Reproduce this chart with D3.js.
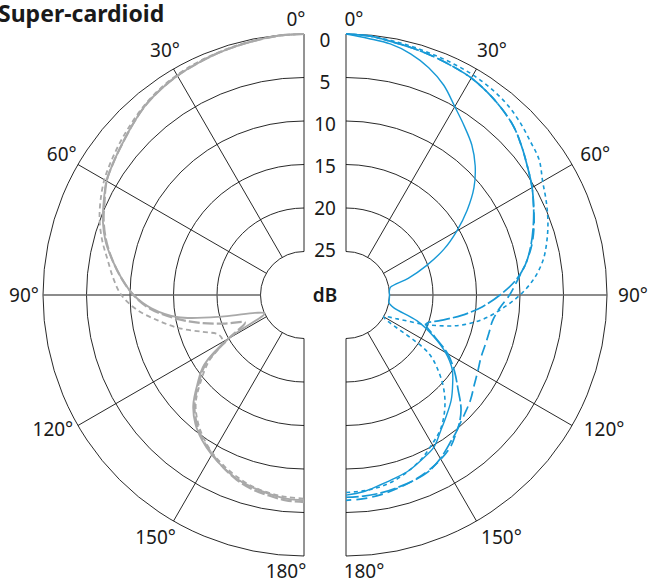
<!DOCTYPE html>
<html>
<head>
<meta charset="utf-8">
<script src="https://cdn.jsdelivr.net/npm/d3@7"></script>
<style>
  body { margin: 0; background: #fff; }
  svg { display: block; }
  text { font-family: "Noto Sans", sans-serif; fill: #1a1a1a; }
</style>
</head>
<body>
<div id="chart"></div>
<script>
// measurement angles (deg) shared by all curves
const angles = [0, 5, 10, 15, 20, 25, 30, 35, 40, 45, 50, 55, 60, 65, 70, 75, 80, 85, 90,
  95, 100, 105, 110, 115, 120, 125, 130, 135, 140, 145, 150, 155, 160, 165, 170, 175, 180];

// left half (gray), attenuation in dB
const graySolid = [0, 0.05, 0.2, 0.35, 0.5, 0.7, 0.9, 1.2, 1.6, 2.2, 2.8, 3.3, 3.8, 4.6, 5.4, 6.4, 7.7, 9.0, 10.4,
  12.4, 15.3, 20.5, 24.0, 25, 20.0, 16.0, 14.0, 12.0, 10.6, 9.6, 8.8, 8.1, 7.5, 7.1, 6.8, 6.5, 6.4];
const grayLong = [0, 0.05, 0.2, 0.35, 0.5, 0.7, 0.9, 1.2, 1.6, 2.2, 2.8, 3.3, 3.8, 4.7, 5.5, 6.5, 7.7, 9.0, 10.4,
  12.2, 14.8, 17.6, 20.4, 22.5, 20.0, 16.2, 14.2, 12.2, 10.8, 9.7, 8.9, 8.1, 7.4, 6.9, 6.6, 6.3, 6.2];
const grayShort = [0, 0.05, 0.15, 0.3, 0.45, 0.6, 0.8, 1.1, 1.5, 2.0, 2.5, 3.0, 3.5, 4.2, 5.0, 6.0, 7.1, 8.0, 9.0,
  10.7, 13.0, 15.2, 17.6, 19.2, 19.2, 16.6, 14.5, 12.4, 11.0, 9.9, 9.0, 8.3, 7.7, 7.2, 6.9, 6.7, 6.6];

// right half (blue)
const blueSolid = [0, 0.4, 0.7, 1.3, 2.2, 3.4, 5.0, 6.3, 7.5, 9.0, 10.8, 13.0, 15.3, 17.6, 20.2, 22.6, 24.8, 25, 25,
  25, 25, 24.3, 21.3, 19.0, 16.8, 15.1, 14.0, 12.9, 12.0, 11.0, 9.8, 9.2, 8.6, 8.2, 7.8, 7.3, 7.0];
const blueLongA = [0, 0.1, 0.4, 0.6, 0.8, 1.0, 1.2, 1.6, 2.1, 2.7, 3.6, 4.5, 5.3, 6.2, 7.1, 8.0, 9.0, 10.4, 12.3,
  14.3, 16.5, 18.7, 20.2, 18.8, 16.5, 14.8, 13.2, 11.3, 10.0, 9.2, 8.3, 7.6, 7.3, 7.1, 6.9, 6.8, 6.75];
const blueLongB = [0, 0.1, 0.4, 0.6, 0.8, 1.0, 1.2, 1.6, 2.1, 2.7, 3.6, 4.5, 5.3, 6.2, 7.0, 7.9, 9.0, 10.2, 11.2,
  12.3, 12.9, 13.0, 13.0, 12.9, 12.5, 12.0, 11.3, 10.7, 10.0, 8.9, 8.2, 7.7, 7.3, 7.0, 6.7, 6.5, 6.4];
const blueShort = [0, 0.1, 0.3, 0.45, 0.6, 0.7, 0.8, 1.0, 1.3, 1.8, 2.4, 2.9, 3.9, 4.6, 5.3, 6.1, 7.0, 8.3, 10.0,
  12.0, 14.0, 16.5, 20.0, 23.5, 25, 18.5, 16.0, 14.0, 12.4, 11.1, 10.2, 9.3, 8.6, 8.0, 7.6, 7.4, 7.3];

const dbTicks = [0, 5, 10, 15, 20, 25];
const angleTicks = [0, 30, 60, 90, 120, 150, 180];

const width = 654, height = 584;
const R = 261, rHole = 43.5, cy = 295;

const r = d3.scaleLinear().domain([0, 25]).range([R, rHole]).clamp(true);
const rad = a => a * Math.PI / 180;

const svg = d3.select("#chart").append("svg")
  .attr("width", width)
  .attr("height", height);

const gray = "#a9a9a9", blue = "#1799d6";

const halves = [
  { cx: 304, side: -1, series: [
    { values: grayShort, color: gray, dash: "5,3.5", w: 1.8 },
    { values: grayLong, color: gray, dash: "11,3", w: 2.2 },
    { values: graySolid, color: gray, dash: null, w: 1.9 }
  ]},
  { cx: 346, side: 1, series: [
    { values: blueShort, color: blue, dash: "4,3.5", w: 1.6 },
    { values: blueLongB, color: blue, dash: "11,5", w: 1.7 },
    { values: blueLongA, color: blue, dash: "16,3", w: 1.7 },
    { values: blueSolid, color: blue, dash: null, w: 1.4 }
  ]}
];

// label placement around the outer ring
function labelPos(d, h) {
  if (d === 0 || d === 180) {
    const shift = d === 0 ? 8 : 18;
    return [h.cx + h.side * shift, cy - 276 * Math.cos(rad(d))];
  }
  const rr = d > 90 ? 288 : 282;
  const a = d > 90 ? d - 1.5 : d;
  const nudge = h.side === 1 ? 5 : 2;
  return [h.cx + h.side * rr * Math.sin(rad(a)) + nudge, cy - rr * Math.cos(rad(a)) - (d > 90 ? 3 : 0)];
}

halves.forEach(h => {
  const g = svg.append("g")
    .attr("transform", `translate(${h.cx},${cy}) scale(${h.side},1)`);

  // rings (half circles)
  g.selectAll(".ring")
    .data(dbTicks)
    .enter()
    .append("path")
    .attr("d", d => {
      const p = d3.path();
      p.arc(0, 0, r(d), -Math.PI / 2, Math.PI / 2);
      return p.toString();
    })
    .attr("fill", "none")
    .attr("stroke", "#111")
    .attr("stroke-width", 0.9);

  // spokes
  g.selectAll(".spoke")
    .data(angleTicks)
    .enter()
    .append("line")
    .attr("x1", d => rHole * Math.sin(rad(d)))
    .attr("y1", d => -rHole * Math.cos(rad(d)))
    .attr("x2", d => R * Math.sin(rad(d)))
    .attr("y2", d => -R * Math.cos(rad(d)))
    .attr("stroke", d => d === 90 ? "#666" : "#111")
    .attr("stroke-width", d => d === 90 ? 1.5 : 0.9);

  // curves
  const line = d3.lineRadial()
    .angle(d => rad(d[0]))
    .radius(d => r(d[1]))
    .curve(d3.curveCatmullRom);

  h.series.forEach(s => {
    g.append("path")
      .datum(angles.map((a, i) => [a, s.values[i]]))
      .attr("d", line)
      .attr("fill", "none")
      .attr("stroke", s.color)
      .attr("stroke-width", s.w)
      .attr("stroke-dasharray", s.dash)
      .attr("stroke-linejoin", "round");
  });

  // angle labels
  svg.selectAll(null)
    .data(angleTicks)
    .enter()
    .append("text")
    .attr("x", d => labelPos(d, h)[0])
    .attr("y", d => labelPos(d, h)[1])
    .attr("dy", "0.35em")
    .attr("text-anchor", "middle")
    .style("font-size", "19px")
    .text(d => `${d}°`);
});

// dB scale labels between the halves
const labelY = d3.scaleLinear().domain([0, 25]).range([40, 250]);
svg.selectAll(".dblabel")
  .data(dbTicks)
  .enter()
  .append("text")
  .attr("x", 325)
  .attr("y", d => labelY(d))
  .attr("dy", "0.35em")
  .attr("text-anchor", "middle")
  .style("font-size", "19px")
  .text(d => d);

svg.append("text")
  .attr("x", 325)
  .attr("y", cy)
  .attr("dy", "0.35em")
  .attr("text-anchor", "middle")
  .style("font-size", "19px")
  .style("font-weight", "600")
  .text("dB");

svg.append("text")
  .attr("x", -2)
  .attr("y", 22)
  .style("font-size", "23px")
  .style("font-weight", "bold")
  .text("Super-cardioid");
</script>
</body>
</html>
